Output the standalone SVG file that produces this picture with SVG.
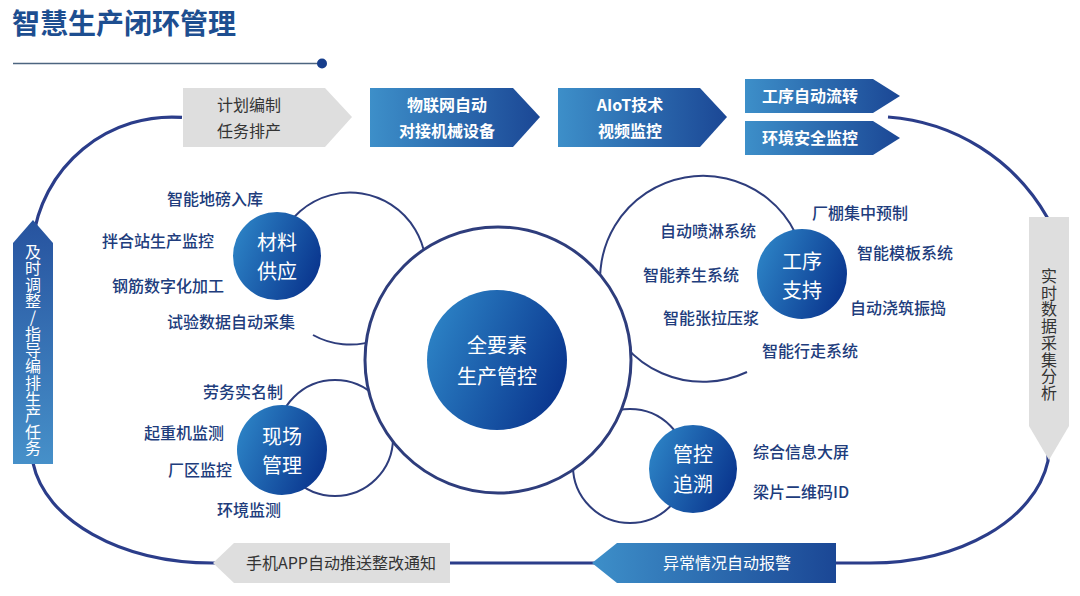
<svg xmlns="http://www.w3.org/2000/svg" width="1080" height="596" viewBox="0 0 1080 596">
<defs>
<linearGradient id="gBox" x1="0" y1="0" x2="1" y2="0"><stop offset="0" stop-color="#3d8fc9"/><stop offset="1" stop-color="#1b4795"/></linearGradient>
<linearGradient id="gCirc" x1="0" y1="0.3" x2="1" y2="0.7"><stop offset="0" stop-color="#2c82c5"/><stop offset="1" stop-color="#09348d"/></linearGradient>
<linearGradient id="gLeft" x1="0" y1="0" x2="0" y2="1"><stop offset="0" stop-color="#27539f"/><stop offset="1" stop-color="#4690c9"/></linearGradient>
<style>
.cjk{font-family:"Noto Sans CJK SC","Liberation Sans",sans-serif}
.lbl{font-size:16px;fill:#203c7c;font-weight:500}
.wt{fill:#ffffff;font-size:16px;font-weight:700;text-anchor:middle}
.gt{fill:#333333;font-size:16px;text-anchor:middle}
.ct{fill:#ffffff;font-size:20px;text-anchor:middle}
.vt{font-size:16px;writing-mode:vertical-rl;text-orientation:upright}
.ring{fill:none;stroke:#2e3d7c;stroke-width:2}
.gray{fill:#dedede}
.blue{fill:url(#gBox)}
.fc{fill:url(#gCirc)}
</style>
</defs>
<rect width="1080" height="596" fill="#ffffff"/>

<g id="title">
<text class="cjk" x="12" y="34" font-size="28" font-weight="700" fill="#1d4e90">智慧生产闭环管理</text>
<line x1="13" y1="63.5" x2="322" y2="63.5" stroke="#4d6580" stroke-width="1.5"/>
<circle cx="322" cy="63.5" r="5" fill="#173e8c"/>
</g>

<g id="connectors">
<path d="M 182 117.4 A 140 140 0 0 0 33 240 L 33 463 C 45 520 120 563 213 563 L 870 563 C 960 563 1035 520 1048 461 L 1047 217 A 200 200 0 0 0 888 117" fill="none" stroke="#2b3d8a" stroke-width="3.2"/>
<path class="ring" d="M 274 270 A 76 76 0 1 1 313 335"/>
<circle class="ring" cx="335" cy="438" r="58"/>
<circle class="ring" cx="630" cy="466" r="57"/>
<path class="ring" d="M 806 274 A 103 103 0 1 0 747 372"/>
</g>

<g id="box-plan">
<polygon class="gray" points="183,88 325,88 352,117 325,147 183,147"/>
<text class="cjk gt" x="249" y="111">计划编制</text>
<text class="cjk gt" x="249" y="137">任务排产</text>
</g>
<g id="box-iot">
<polygon class="blue" points="370,88 513,88 540,117 513,147 370,147"/>
<text class="cjk wt" x="447" y="111">物联网自动</text>
<text class="cjk wt" x="447" y="137">对接机械设备</text>
</g>
<g id="box-aiot">
<polygon class="blue" points="558,88 700,88 727,117 700,147 558,147"/>
<text class="cjk wt" x="630" y="111">AIoT技术</text>
<text class="cjk wt" x="630" y="137">视频监控</text>
</g>
<g id="box-flow">
<polygon class="blue" points="745,79 873,79 900,96 873,113 745,113"/>
<text class="cjk wt" x="810" y="102">工序自动流转</text>
</g>
<g id="box-env">
<polygon class="blue" points="745,121 873,121 900,138 873,155 745,155"/>
<text class="cjk wt" x="810" y="144">环境安全监控</text>
</g>
<g id="box-realtime">
<polygon class="gray" points="1029,217 1069,217 1069,426 1049,460 1029,426"/>
<text class="cjk vt" x="1049" y="268" fill="#333333" letter-spacing="0.7">实时数据采集分析</text>
</g>
<g id="box-adjust">
<polygon fill="url(#gLeft)" points="13,243 33,220 53,243 53,464 13,464"/>
<text class="cjk vt" x="33" y="244" fill="#ffffff" letter-spacing="0.33">及时调整/指导编排生产任务</text>
</g>
<g id="box-app">
<polygon class="gray" points="213,563 234,543 450,543 450,583 234,583"/>
<text class="cjk" x="341" y="569" font-size="16" fill="#333333" text-anchor="middle">手机APP自动推送整改通知</text>
</g>
<g id="box-alarm">
<polygon fill="url(#gBox)" points="592,563 617,543 836,543 836,583 617,583"/>
<text class="cjk" x="727" y="569" font-size="16" fill="#ffffff" text-anchor="middle">异常情况自动报警</text>
</g>

<g id="center">
<circle cx="498" cy="360" r="133" fill="#ffffff" stroke="#2e3d7c" stroke-width="3"/>
<circle class="fc" cx="497" cy="360" r="70"/>
<text class="cjk ct" x="497" y="353">全要素</text>
<text class="cjk ct" x="497" y="384">生产管控</text>
</g>

<g id="material">
<circle class="fc" cx="277" cy="256" r="44"/>
<text class="cjk ct" x="277" y="250">材料</text>
<text class="cjk ct" x="277" y="279">供应</text>
<text class="cjk lbl" x="167" y="205">智能地磅入库</text>
<text class="cjk lbl" x="102" y="247">拌合站生产监控</text>
<text class="cjk lbl" x="112" y="292">钢筋数字化加工</text>
<text class="cjk lbl" x="167" y="328">试验数据自动采集</text>
</g>

<g id="site">
<circle class="fc" cx="282" cy="450" r="45"/>
<text class="cjk ct" x="282" y="444">现场</text>
<text class="cjk ct" x="282" y="473">管理</text>
<text class="cjk lbl" x="203" y="398">劳务实名制</text>
<text class="cjk lbl" x="144" y="439">起重机监测</text>
<text class="cjk lbl" x="168" y="476">厂区监控</text>
<text class="cjk lbl" x="217" y="516">环境监测</text>
</g>

<g id="process">
<circle class="fc" cx="802" cy="274" r="45"/>
<text class="cjk ct" x="802" y="269">工序</text>
<text class="cjk ct" x="802" y="298">支持</text>
<text class="cjk lbl" x="812" y="219">厂棚集中预制</text>
<text class="cjk lbl" x="660" y="237">自动喷淋系统</text>
<text class="cjk lbl" x="857" y="259">智能模板系统</text>
<text class="cjk lbl" x="643" y="281">智能养生系统</text>
<text class="cjk lbl" x="850" y="314">自动浇筑振捣</text>
<text class="cjk lbl" x="663" y="324">智能张拉压浆</text>
<text class="cjk lbl" x="762" y="357">智能行走系统</text>
</g>

<g id="control">
<circle class="fc" cx="693" cy="469" r="44"/>
<text class="cjk ct" x="693" y="462">管控</text>
<text class="cjk ct" x="693" y="492">追溯</text>
<text class="cjk lbl" x="753" y="458">综合信息大屏</text>
<text class="cjk lbl" x="753" y="498">梁片二维码ID</text>
</g>
</svg>
